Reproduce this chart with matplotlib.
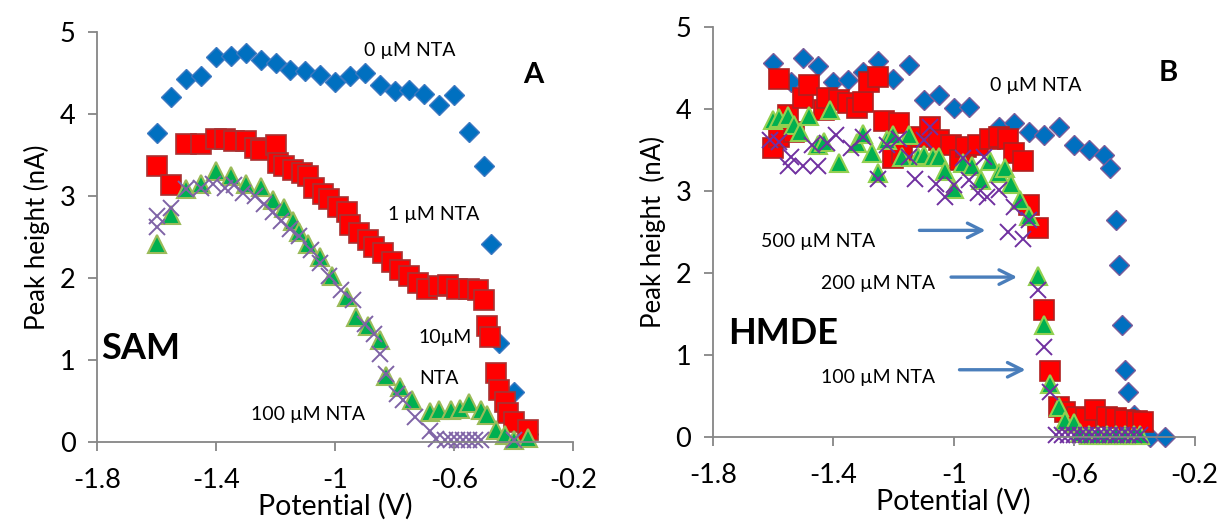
import matplotlib
matplotlib.use("Agg")
import matplotlib.pyplot as plt

plt.rcParams['font.family'] = ['Lato', 'DejaVu Sans']

# ---------------- Panel A (SAM) ----------------
xA_0 = [-1.60, -1.55, -1.50, -1.45, -1.40, -1.35, -1.30, -1.25, -1.20, -1.15, -1.10, -1.05,
        -1.00, -0.95, -0.90, -0.85, -0.80, -0.75, -0.70, -0.65, -0.60, -0.55, -0.50, -0.475,
        -0.45, -0.40, -0.35]
yA_0 = [3.77, 4.21, 4.43, 4.46, 4.70, 4.71, 4.75, 4.66, 4.62, 4.54, 4.52, 4.48,
        4.39, 4.46, 4.50, 4.35, 4.28, 4.29, 4.25, 4.11, 4.23, 3.78, 3.37, 2.41,
        1.21, 0.61, 0.10]

xA_1 = [-1.60, -1.55, -1.50, -1.45, -1.40, -1.37, -1.34, -1.30, -1.27, -1.25, -1.20, -1.19,
        -1.17, -1.14, -1.11, -1.09, -1.07, -1.04, -1.02, -0.99, -0.96, -0.95, -0.92, -0.89,
        -0.87, -0.84, -0.81, -0.78, -0.75, -0.72, -0.69, -0.65, -0.62, -0.59, -0.55, -0.52,
        -0.50, -0.49, -0.48, -0.46, -0.45, -0.43, -0.42, -0.40, -0.35]
yA_1 = [3.36, 3.13, 3.64, 3.64, 3.69, 3.69, 3.67, 3.67, 3.58, 3.56, 3.62, 3.40,
        3.36, 3.32, 3.28, 3.24, 3.10, 3.02, 2.96, 2.86, 2.81, 2.65, 2.55, 2.46,
        2.38, 2.30, 2.20, 2.10, 2.02, 1.94, 1.87, 1.90, 1.91, 1.87, 1.87, 1.85,
        1.73, 1.41, 1.28, 0.84, 0.63, 0.49, 0.35, 0.25, 0.15]

xA_10 = [-1.60, -1.55, -1.50, -1.45, -1.40, -1.35, -1.30, -1.25, -1.21, -1.17, -1.14,
         -1.12, -1.09, -1.05, -1.01, -0.96, -0.93, -0.89, -0.85, -0.83, -0.78, -0.74,
         -0.68, -0.65, -0.61, -0.58, -0.55, -0.51, -0.49, -0.46, -0.43, -0.40, -0.35]
yA_10 = [2.42, 2.77, 3.09, 3.15, 3.30, 3.24, 3.15, 3.11, 2.95, 2.85, 2.70,
         2.56, 2.42, 2.26, 2.02, 1.77, 1.53, 1.41, 1.24, 0.80, 0.67, 0.51,
         0.37, 0.39, 0.39, 0.40, 0.47, 0.39, 0.33, 0.15, 0.08, 0.02, 0.05]

xA_100 = [-1.60, -1.60, -1.55, -1.50, -1.45, -1.41, -1.37, -1.34, -1.31, -1.27, -1.24,
          -1.21, -1.18, -1.15, -1.12, -1.08, -1.05, -1.02, -0.98, -0.94, -0.90, -0.87,
          -0.85, -0.83, -0.79, -0.77, -0.73, -0.68, -0.66, -0.63, -0.61, -0.59, -0.57,
          -0.55, -0.53, -0.51, -0.40]
yA_100 = [2.76, 2.62, 2.85, 3.08, 3.10, 3.15, 3.10, 3.14, 3.04, 3.00, 2.90,
          2.80, 2.70, 2.60, 2.51, 2.34, 2.18, 2.02, 1.85, 1.73, 1.44, 1.32,
          1.07, 0.83, 0.59, 0.51, 0.30, 0.14, 0.04, 0.03, 0.03, 0.03, 0.03,
          0.03, 0.03, 0.03, 0.02]

# ---------------- Panel B (HMDE) ----------------
xB_0 = [-1.60, -1.54, -1.50, -1.45, -1.40, -1.35, -1.30, -1.25, -1.20, -1.15, -1.10, -1.05,
        -1.00, -0.95, -0.85, -0.80, -0.75, -0.70, -0.65, -0.60, -0.55, -0.50, -0.48, -0.46,
        -0.45, -0.44, -0.43, -0.42, -0.40, -0.35, -0.30]
yB_0 = [4.56, 4.33, 4.62, 4.52, 4.33, 4.35, 4.45, 4.58, 4.37, 4.54, 4.11, 4.17,
        4.01, 4.03, 3.78, 3.83, 3.72, 3.68, 3.78, 3.56, 3.50, 3.44, 3.28, 2.65,
        2.10, 1.37, 0.82, 0.55, 0.27, 0.00, 0.00]

xB_100 = [-1.60, -1.58, -1.58, -1.55, -1.53, -1.50, -1.48, -1.43, -1.42, -1.38, -1.35,
          -1.32, -1.30, -1.28, -1.25, -1.23, -1.20, -1.18, -1.17, -1.11, -1.08, -1.05,
          -1.01, -0.98, -0.96, -0.92, -0.88, -0.85, -0.82, -0.80, -0.77, -0.75, -0.72,
          -0.70, -0.68, -0.65, -0.63, -0.59, -0.56, -0.53, -0.49, -0.46, -0.43, -0.39, -0.37]
yB_100 = [3.52, 4.36, 3.66, 3.93, 3.72, 4.13, 4.29, 3.99, 4.13, 4.11, 4.07,
          4.01, 4.09, 4.33, 4.39, 3.85, 3.40, 3.83, 3.46, 3.66, 3.78, 3.62,
          3.56, 3.38, 3.54, 3.56, 3.64, 3.66, 3.64, 3.46, 3.36, 2.83, 2.55,
          1.55, 0.80, 0.37, 0.31, 0.25, 0.23, 0.33, 0.25, 0.23, 0.21, 0.19, 0.18]

xB_200 = [-1.60, -1.58, -1.55, -1.53, -1.51, -1.48, -1.45, -1.43, -1.41, -1.38, -1.32,
          -1.30, -1.27, -1.25, -1.22, -1.20, -1.17, -1.15, -1.12, -1.10, -1.07, -1.05,
          -1.03, -1.00, -0.97, -0.94, -0.91, -0.88, -0.85, -0.83, -0.81, -0.78, -0.75,
          -0.72, -0.70, -0.68, -0.65, -0.63, -0.60, -0.58, -0.55, -0.52, -0.49, -0.46,
          -0.43, -0.40, -0.38]
yB_200 = [3.87, 3.89, 3.91, 3.80, 3.72, 3.91, 3.56, 3.60, 3.99, 3.34, 3.58,
          3.70, 3.46, 3.22, 3.62, 3.68, 3.42, 3.68, 3.42, 3.44, 3.42, 3.42,
          3.24, 3.03, 3.34, 3.30, 3.13, 3.36, 3.22, 3.28, 3.09, 2.89, 2.69,
          1.96, 1.37, 0.65, 0.37, 0.19, 0.17, 0.05, 0.03, 0.02, 0.02, 0.02,
          0.02, 0.02, 0.02]

xB_500 = [-1.61, -1.58, -1.55, -1.54, -1.50, -1.47, -1.45, -1.42, -1.39, -1.34, -1.30,
          -1.25, -1.22, -1.18, -1.15, -1.13, -1.10, -1.08, -1.06, -1.03, -1.00, -0.97,
          -0.95, -0.92, -0.90, -0.89, -0.85, -0.82, -0.80, -0.77, -0.75, -0.72, -0.70,
          -0.68, -0.66, -0.64, -0.62, -0.60, -0.58, -0.56, -0.54, -0.52, -0.50, -0.48,
          -0.46, -0.44, -0.42, -0.40, -0.38]
yB_500 = [3.62, 3.60, 3.30, 3.42, 3.30, 3.56, 3.30, 3.58, 3.68, 3.52, 3.66,
          3.15, 3.56, 3.64, 3.42, 3.15, 3.62, 3.78, 3.09, 2.93, 3.07, 3.40,
          3.13, 2.97, 3.42, 2.93, 3.01, 2.50, 2.81, 2.42, 2.65, 1.79, 1.10,
          0.55, 0.02, 0.02, 0.02, 0.02, 0.02, 0.02, 0.02, 0.02, 0.02, 0.02,
          0.02, 0.02, 0.02, 0.02, 0.02]

x_ticks = [-1.8, -1.4, -1.0, -0.6, -0.2]
x_tick_labels = ["-1.8", "-1.4", "-1", "-0.6", "-0.2"]
y_ticks = [0, 1, 2, 3, 4, 5]

W, H = 1222, 526
fig = plt.figure(figsize=(W / 100, H / 100), dpi=100)
axA = fig.add_axes([97 / W, 84 / H, 476 / W, 410 / H])
axB = fig.add_axes([712.7 / W, 89 / H, 482 / W, 410 / H])

AX_COL = '#868686'


def style(ax, ylabel):
    ax.set_xlim(-1.8, -0.2)
    ax.set_ylim(0, 5)
    ax.set_xticks(x_ticks)
    ax.set_xticklabels(x_tick_labels)
    ax.set_yticks(y_ticks)
    for s in ['top', 'right']:
        ax.spines[s].set_visible(False)
    for s in ['left', 'bottom']:
        ax.spines[s].set_color(AX_COL)
        ax.spines[s].set_linewidth(1.3)
    ax.tick_params(direction='out', length=6.5, width=1.3, color=AX_COL,
                   labelsize=19.5, labelcolor='black')
    ax.tick_params(axis='x', pad=12)
    ax.tick_params(axis='y', pad=9)
    ax.set_xlabel('Potential (V)', fontsize=20.5, labelpad=0)
    ax.set_ylabel(ylabel, fontsize=18.5, labelpad=7)
    for sp in ax.spines.values():
        sp.set_clip_on(False)


# Panel A
axA.plot(xA_0, yA_0, ls='none', marker='D', ms=10.5, mfc='#0070C0', mec='#3C78C0', mew=1.0, clip_on=False)
axA.plot(xA_1, yA_1, ls='none', marker='s', ms=14, mfc='#FF0000', mec='#A83232', mew=1.2, clip_on=False)
axA.plot(xA_10, yA_10, ls='none', marker='^', ms=13, mfc='#00B050', mec='#9BBB59', mew=1.5, clip_on=False)
axA.plot(xA_100, yA_100, ls='none', marker='x', ms=12, mec='#7F63A6', mew=1.4, clip_on=False)
style(axA, 'Peak height (nA)')

FS = 14
axA.text(-0.75, 4.78, '0 µM NTA', fontsize=FS, ha='center', va='center')
axA.text(-0.668, 2.77, '1 µM NTA', fontsize=FS, ha='center', va='center')
axA.text(-0.629, 1.28, '10µM', fontsize=FS, ha='center', va='center')
axA.text(-0.652, 0.78, 'NTA', fontsize=FS, ha='center', va='center')
axA.text(-1.089, 0.33, '100 µM NTA', fontsize=FS, ha='center', va='center')
axA.text(-0.334, 4.48, 'A', fontsize=21, fontweight='bold', ha='center', va='center')
axA.text(-1.785, 1.14, 'SAM', fontsize=26, fontweight='bold', ha='left', va='center')

# Panel B
axB.plot(xB_0, yB_0, ls='none', marker='D', ms=10.5, mfc='#0070C0', mec='#7A5C9A', mew=1.0, clip_on=False)
axB.plot(xB_100, yB_100, ls='none', marker='s', ms=14, mfc='#FF0000', mec='#B02020', mew=1.2, clip_on=False)
axB.plot(xB_200, yB_200, ls='none', marker='^', ms=13, mfc='#00B050', mec='#92D050', mew=1.5, clip_on=False)
axB.plot(xB_500, yB_500, ls='none', marker='x', ms=12, mec='#7030A0', mew=1.4, clip_on=False)
style(axB, 'Peak height  (nA)')

axB.text(-0.729, 4.29, '0 µM NTA', fontsize=FS, ha='center', va='center')
axB.text(-0.288, 4.44, 'B', fontsize=21, fontweight='bold', ha='center', va='center')
axB.text(-1.449, 2.39, '500 µM NTA', fontsize=FS, ha='center', va='center')
axB.text(-1.250, 1.87, '200 µM NTA', fontsize=FS, ha='center', va='center')
axB.text(-1.250, 0.72, '100 µM NTA', fontsize=FS, ha='center', va='center')
axB.text(-1.748, 1.26, 'HMDE', fontsize=26, fontweight='bold', ha='left', va='center')

ARROW = dict(arrowstyle='->', color='#4A7EBB', lw=2.4, mutation_scale=26)
axB.annotate('', xy=(-0.885, 2.52), xytext=(-1.123, 2.52), arrowprops=ARROW)
axB.annotate('', xy=(-0.780, 1.95), xytext=(-1.018, 1.95), arrowprops=ARROW)
axB.annotate('', xy=(-0.752, 0.82), xytext=(-0.990, 0.82), arrowprops=ARROW)

fig.savefig('out.png', dpi=100)
